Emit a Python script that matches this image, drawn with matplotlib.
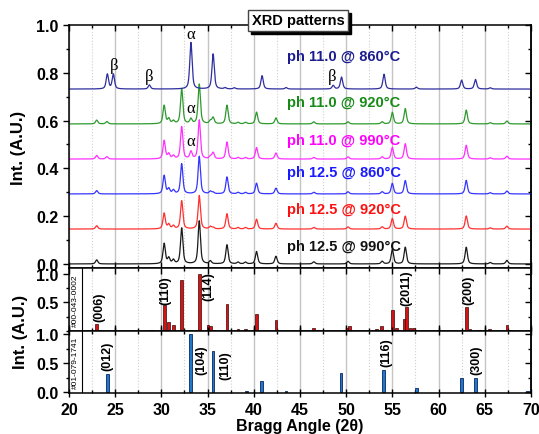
import numpy as np
import matplotlib
matplotlib.use("Agg")
import matplotlib.pyplot as plt
from matplotlib.ticker import MultipleLocator
from matplotlib.patches import Rectangle

plt.rcParams['font.family'] = ['Liberation Sans', 'DejaVu Sans']
plt.rcParams['font.weight'] = 'bold'
plt.rcParams['axes.linewidth'] = 1.1

# ---------------- measured patterns (peak positions in 2theta, heights in A.U.) ----
main_pos = [23.0, 24.1, 30.3, 30.8, 31.3, 32.2, 33.2, 34.1, 35.3, 35.6, 37.1, 38.3,
            39.1, 40.3, 42.4, 46.5, 50.2, 53.9, 55.0, 56.4, 63.0, 65.6, 67.4]
h_ph125_990 = [0.017, 0.0, 0.085, 0.024, 0.016, 0.150, 0.0, 0.180, 0.012, 0.0, 0.080, 0.007,
               0.007, 0.052, 0.032, 0.009, 0.011, 0.011, 0.060, 0.070, 0.070, 0.006, 0.015]
h_ph125_920 = [0.014, 0.0, 0.066, 0.019, 0.013, 0.118, 0.0, 0.140, 0.010, 0.006, 0.064, 0.006,
               0.006, 0.041, 0.024, 0.007, 0.009, 0.009, 0.044, 0.054, 0.055, 0.005, 0.012]
h_ph125_860 = [0.014, 0.0, 0.077, 0.021, 0.015, 0.126, 0.0, 0.157, 0.010, 0.006, 0.071, 0.006,
               0.006, 0.045, 0.024, 0.007, 0.009, 0.009, 0.044, 0.056, 0.057, 0.005, 0.012]
h_ph110_990 = [0.015, 0.010, 0.077, 0.021, 0.013, 0.135, 0.030, 0.163, 0.010, 0.026, 0.071, 0.006,
               0.006, 0.048, 0.025, 0.007, 0.009, 0.009, 0.048, 0.064, 0.058, 0.005, 0.012]
h_ph110_920 = [0.016, 0.010, 0.077, 0.021, 0.012, 0.147, 0.020, 0.166, 0.012, 0.026, 0.078, 0.006,
               0.006, 0.049, 0.025, 0.009, 0.009, 0.009, 0.048, 0.064, 0.058, 0.005, 0.012]

navy_pos = [24.15, 24.8, 28.7, 33.2, 35.6, 36.9, 37.9, 40.9, 43.5, 48.6, 49.5, 54.1,
            57.6, 62.5, 64.0, 65.6]
h_ph110_860 = [0.062, 0.062, 0.017, 0.195, 0.147, 0.005, 0.005, 0.056, 0.006, 0.015, 0.050, 0.062,
               0.008, 0.037, 0.040, 0.005]

# vertical offsets of the stacked patterns
offsets = [0.0, 0.146, 0.293, 0.439, 0.586, 0.732]
series_labels = ["ph 12.5 @ 990°C", "ph 12.5 @ 920°C", "ph 12.5 @ 860°C",
                 "ph 11.0 @ 990°C", "ph 11.0 @ 920°C", "ph 11.0 @ 860°C"]
label_y = [0.077, 0.230, 0.386, 0.520, 0.676, 0.872]

# reference card #00-043-0002
ref1_pos = [23.0, 23.3, 28.95, 30.3, 30.8, 31.3, 32.2, 34.1, 35.05, 35.35, 35.65, 37.1, 38.3,
            39.1, 40.3, 42.4, 46.5, 47.0, 50.1, 50.4, 53.3, 53.85, 54.4, 55.0, 55.45, 56.25,
            56.55, 56.9, 57.3, 60.0, 62.8, 63.05, 63.4, 64.4, 65.55, 67.4, 67.8]
ref1_int = [0.12, 0.02, 0.01, 0.45, 0.16, 0.11, 0.885, 1.0, 0.10, 0.08, 0.02, 0.465, 0.03,
            0.03, 0.29, 0.19, 0.06, 0.015, 0.05, 0.09, 0.03, 0.08, 0.02, 0.37, 0.06, 0.21,
            0.425, 0.05, 0.05, 0.02, 0.01, 0.425, 0.03, 0.01, 0.04, 0.11, 0.02]
ref1_hkl = ["(006)", "(110)", "(114)", "(2011)", "(200)"]
ref1_hkl_xy = [(23.25, 0.17), (30.45, 0.48), (35.07, 0.54), (56.55, 0.45), (63.2, 0.48)]

# reference card #01-079-1741
ref2_pos = [24.15, 33.15, 35.6, 39.25, 40.85, 43.5, 49.45, 54.05, 57.6, 62.45, 64.0, 69.6]
ref2_int = [0.32, 1.0, 0.71, 0.02, 0.195, 0.02, 0.33, 0.39, 0.08, 0.25, 0.25, 0.02]
ref2_hkl = ["(012)", "(104)", "(110)", "(116)", "(300)"]
ref2_hkl_xy = [(24.15, 0.38), (34.35, 0.32), (36.9, 0.235), (54.4, 0.45), (64.05, 0.32)]

two_theta = np.linspace(20, 70, 6001)


def profile(pos, heights, fwhm=0.30, eta=0.6):
    """Pseudo-Voigt sum of reflections."""
    y = np.zeros_like(two_theta)
    g = fwhm / 2.0
    s = fwhm / 2.3548
    for p, h in zip(pos, heights):
        lor = g ** 2 / ((two_theta - p) ** 2 + g ** 2)
        gau = np.exp(-0.5 * ((two_theta - p) / s) ** 2)
        y += h * (eta * lor + (1 - eta) * gau)
    return y


fig = plt.figure(figsize=(5.39, 4.35), dpi=100)
left, width = 0.128, 0.857
ax_top = fig.add_axes([left, 0.3816, width, 0.5586])
ax_mid = fig.add_axes([left, 0.2368, width, 0.1448])
ax_bot = fig.add_axes([left, 0.0943, width, 0.1425])


def style_axis(ax, ymajor, yminor, labelbottom=False):
    ax.set_xlim(20, 70)
    ax.xaxis.set_major_locator(MultipleLocator(5))
    ax.xaxis.set_minor_locator(MultipleLocator(2.5))
    ax.yaxis.set_major_locator(MultipleLocator(ymajor))
    ax.yaxis.set_minor_locator(MultipleLocator(yminor))
    ax.set_axisbelow(True)
    ax.grid(axis='x', which='major', color='#c4c4c4', lw=1.0)
    ax.grid(axis='x', which='minor', color='#d0d0d0', lw=0.8, ls=':')
    ax.tick_params(axis='x', which='both', direction='in', top=True, bottom=True,
                   labelbottom=labelbottom, labelsize=11.5, width=1.0)
    ax.tick_params(axis='y', which='both', direction='out', left=True, right=False,
                   labelsize=11.5, width=1.0)
    ax.tick_params(which='major', length=4)
    ax.tick_params(which='minor', length=2.5)
    sec = ax.secondary_yaxis('right')
    sec.yaxis.set_major_locator(MultipleLocator(ymajor))
    sec.yaxis.set_minor_locator(MultipleLocator(yminor))
    sec.tick_params(which='both', direction='in', labelright=False, width=1.0)
    sec.tick_params(which='major', length=4)
    sec.tick_params(which='minor', length=2.5)
    for lab in ax.get_xticklabels() + ax.get_yticklabels():
        lab.set_fontweight('bold')


# ---------------- stacked XRD patterns ----------------
line_colors = ['#1a1a1a', '#ff3030', '#3535ff', '#ff30ff', '#2e9a2e', '#2e2e9e']
text_colors = ['#111111', '#ff1010', '#1a1aff', '#ff00ff', '#178a17', '#1c1c8e']
all_pos = [main_pos] * 5 + [navy_pos]
all_h = [h_ph125_990, h_ph125_920, h_ph125_860, h_ph110_990, h_ph110_920, h_ph110_860]

for pos, hts, off, lc, tc, lab, ly in zip(all_pos, all_h, offsets, line_colors,
                                          text_colors, series_labels, label_y):
    ax_top.plot(two_theta, off + profile(pos, hts), color=lc, lw=0.9)
    ax_top.text(43.55, ly, lab, color=tc, fontsize=10.5, fontweight='bold',
                ha='left', va='center')

greek = dict(family=['Liberation Serif', 'DejaVu Serif'], fontsize=12,
             fontweight='normal', ha='center', va='center')
ax_top.text(33.2, 0.962, 'α', **greek)
ax_top.text(33.2, 0.651, 'α', **greek)
ax_top.text(33.2, 0.516, 'α', **greek)
ax_top.text(24.9, 0.834, 'β', **greek)
ax_top.text(28.7, 0.788, 'β', **greek)
ax_top.text(48.5, 0.788, 'β', **greek)

ax_top.set_ylim(-0.017, 1.0)
style_axis(ax_top, 0.2, 0.1)
ax_top.set_ylabel('Int. (A.U.)', fontsize=12, fontweight='bold', labelpad=7)

# ---------------- reference cards ----------------
ax_mid.bar(ref1_pos, ref1_int, width=0.3, color='#d41414', edgecolor='#3a0505', lw=0.5)
for t, (x, y) in zip(ref1_hkl, ref1_hkl_xy):
    ax_mid.text(x, y, t, rotation=90, ha='center', va='bottom', fontsize=9,
                fontweight='bold')
ax_mid.set_ylim(0, 1.1)
style_axis(ax_mid, 0.5, 0.25)
ax_mid.set_yticks([0.5, 1.0])
ax_mid.axvline(21.45, color='black', lw=0.8)
ax_mid.text(20.72, 0.55, '#00-043-0002', rotation=90, ha='center', va='center',
            fontsize=6, fontweight='normal')

ax_bot.bar(ref2_pos, ref2_int, width=0.3, color='#1f78c8', edgecolor='#0b2560', lw=0.6)
for t, (x, y) in zip(ref2_hkl, ref2_hkl_xy):
    ax_bot.text(x, y, t, rotation=90, ha='center', va='bottom', fontsize=9,
                fontweight='bold')
ax_bot.set_ylim(-0.01, 1.05)
style_axis(ax_bot, 0.5, 0.25, labelbottom=True)
ax_bot.set_yticks([0.0, 0.5, 1.0])
ax_bot.tick_params(axis='x', which='major', direction='inout', length=6)
ax_bot.axvline(21.45, color='black', lw=0.8)
ax_bot.text(20.72, 0.52, '#01-079-1741', rotation=90, ha='center', va='center',
            fontsize=6, fontweight='normal')
ax_bot.set_xlabel('Bragg Angle (2θ)', fontsize=11.5, fontweight='bold', labelpad=1)

fig.text(0.038, 0.237, 'Int. (A.U.)', rotation=90, ha='center', va='center',
         fontsize=12, fontweight='bold')

# ---------------- boxed title with drop shadow ----------------
title = fig.text(0.553, 0.951, 'XRD patterns', ha='center', va='center',
                 fontsize=10.5, fontweight='bold', color='black', zorder=5,
                 bbox=dict(boxstyle='square,pad=0.25', fc='white', ec='#444444', lw=1.0))
fig.canvas.draw()
bb = title.get_bbox_patch().get_window_extent(fig.canvas.get_renderer())
fig.patches.append(Rectangle((bb.x0 + 3, bb.y0 - 3), bb.width, bb.height,
                             transform=None, facecolor='black', edgecolor='black',
                             zorder=4, figure=fig))

fig.savefig('out.png', dpi=100)
